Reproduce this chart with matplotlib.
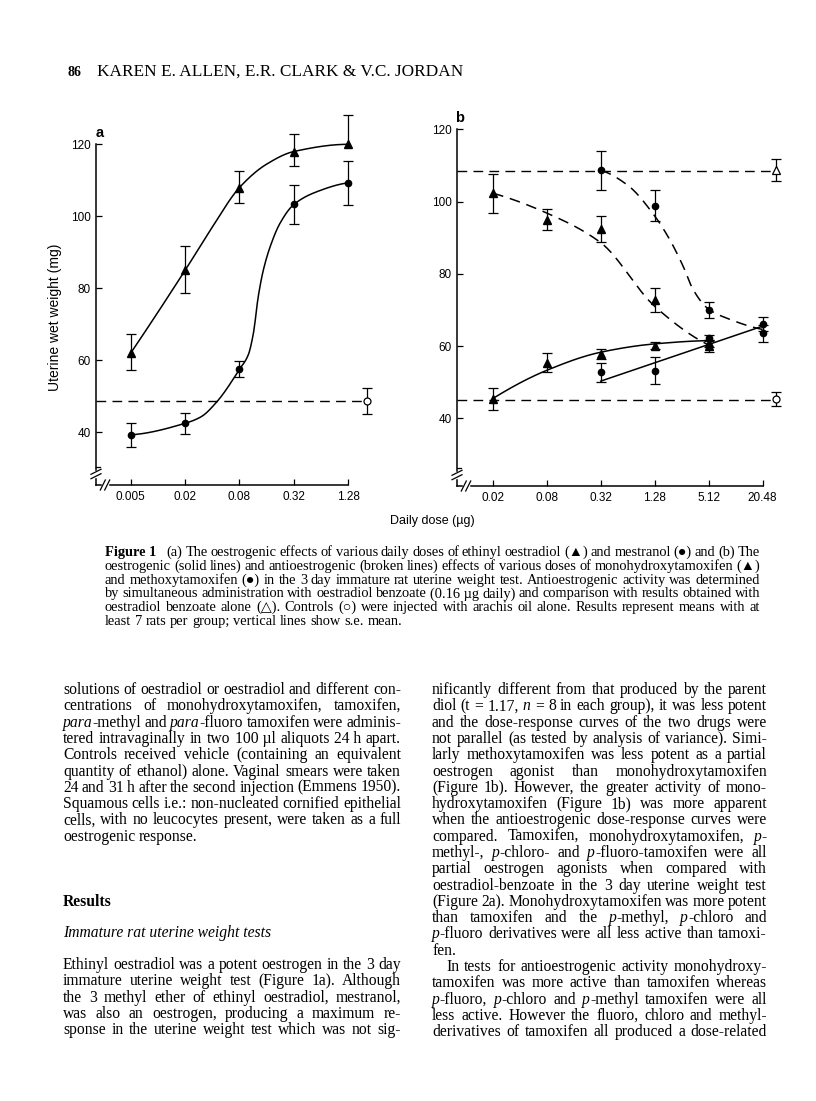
import numpy as np
import matplotlib
matplotlib.use('Agg')
import matplotlib.pyplot as plt
from matplotlib.lines import Line2D
from matplotlib.ticker import NullLocator

# ---- data ----
# panel a: ethinyl oestradiol (triangles) and mestranol (circles)
doses_a = [0.005, 0.02, 0.08, 0.32, 1.28]
dose_labels_a = ['0.005', '0.02', '0.08', '0.32', '1.28']
ee_mean = [62.0, 85.0, 108.0, 118.0, 120.0]
ee_se_lo = [4.7, 6.3, 4.4, 4.1, 0.0]
ee_se_hi = [5.2, 6.7, 4.7, 4.9, 8.1]
mes_mean = [39.3, 42.5, 57.5, 103.3, 109.3]
mes_se = [3.4, 3.0, 2.2, 5.3, 6.1]
ctrl_a = 48.7
ctrl_a_se = 3.7
# fitted curves (hand drawn in the original)
ee_fit_dose = [0.005, 0.02, 0.04, 0.08, 0.16, 0.32, 1.28]
ee_fit = [62.0, 85.0, 97.0, 108.0, 114.5, 118.0, 120.0]
mes_fit_dose = [0.005, 0.02, 0.03, 0.045, 0.08, 0.1, 0.114, 0.129, 0.147, 0.175, 0.225, 0.32, 0.57, 1.28]
mes_fit = [39.3, 42.5, 44.3, 48.5, 57.5, 61.5, 67.5, 77.7, 85.1, 91.6, 98.1, 103.3, 106.8, 109.3]

# panel b: monohydroxytamoxifen (triangles), methoxytamoxifen (circles)
dose_ticks_b = [0.02, 0.08, 0.32, 1.28, 5.12, 20.48]
dose_labels_b = ['0.02', '0.08', '0.32', '1.28', '5.12', '20.48']
mht_dose = [0.02, 0.08, 0.32, 1.28, 5.12]
mht_oes = [45.3, 55.4, 57.7, 60.1, 60.8]
mht_oes_se = [3.0, 2.6, 1.4, 1.0, 1.0]
mht_anti = [102.3, 95.0, 92.4, 72.8, 60.1]
mht_anti_se = [5.4, 2.8, 3.7, 3.4, 1.7]
meo_dose = [0.32, 1.28, 5.12, 20.48]
meo_oes = [52.7, 53.2, 62.3, 66.1]
meo_oes_se = [2.6, 3.7, 0.8, 1.9]
meo_anti = [108.6, 98.9, 70.0, 63.5]
meo_anti_se = [5.4, 4.2, 2.3, 2.3]
ob_alone = 108.7
ob_alone_se = 3.0
ob_line = 108.5
ctrl_b = 45.3
ctrl_b_se = 2.0
ctrl_line_b = 45.1
mht_oes_fit_dose = [0.02, 0.08, 0.32, 1.28, 5.12]
mht_oes_fit = [45.5, 53.3, 58.3, 60.6, 61.5]
mht_anti_fit_dose = [0.02, 0.08, 0.32, 1.28, 5.12]
mht_anti_fit = [102.3, 96.8, 88.6, 71.0, 60.3]
meo_oes_fit_dose = [0.32, 20.48]
meo_oes_fit = [50.3, 65.5]
meo_anti_fit_dose = [0.32, 0.64, 1.28, 1.89, 2.67, 3.46, 5.12, 8.2, 20.48]
meo_anti_fit = [108.6, 104.5, 96.0, 89.4, 82.0, 75.5, 70.2, 67.7, 64.6]

W, H = 816, 1101
fig = plt.figure(figsize=(W / 100, H / 100), dpi=100)
plt.rcParams['font.family'] = ['Liberation Sans', 'DejaVu Sans']
SERIF = ['Liberation Serif', 'DejaVu Sans']


def fx(px):
    return px / W


def fy(py):
    return 1 - py / H


def pchip(x, y, xn):
    x = np.asarray(x, float)
    y = np.asarray(y, float)
    if len(x) == 2:
        return np.interp(xn, x, y)
    h = np.diff(x)
    d = np.diff(y) / h
    m = np.zeros_like(y)
    for k in range(1, len(x) - 1):
        if d[k - 1] * d[k] > 0:
            w1 = 2 * h[k] + h[k - 1]
            w2 = h[k] + 2 * h[k - 1]
            m[k] = (w1 + w2) / (w1 / d[k - 1] + w2 / d[k])

    def end(h0, h1, d0, d1):
        v = ((2 * h0 + h1) * d0 - h0 * d1) / (h0 + h1)
        if np.sign(v) != np.sign(d0):
            return 0.0
        if np.sign(d0) != np.sign(d1) and abs(v) > 3 * abs(d0):
            return 3 * d0
        return v
    m[0] = end(h[0], h[1], d[0], d[1])
    m[-1] = end(h[-1], h[-2], d[-1], d[-2])
    i = np.clip(np.searchsorted(x, xn) - 1, 0, len(x) - 2)
    t = (xn - x[i]) / h[i]
    return ((2 * t**3 - 3 * t**2 + 1) * y[i] + (t**3 - 2 * t**2 + t) * h[i] * m[i]
            + (-2 * t**3 + 3 * t**2) * y[i + 1] + (t**3 - t**2) * h[i] * m[i + 1])


def curve(ax, xd, yd, ls):
    lx = np.log(xd)
    xs = np.linspace(lx[0], lx[-1], 300)
    ax.plot(np.exp(xs), pchip(lx, yd, xs), color='k', lw=1.1, ls=ls,
            dashes=(7, 4.5) if ls == '--' else (None, None), zorder=2)


def ebar(ax, x, y, lo, hi):
    x = np.asarray(x, float)
    y = np.asarray(y, float)
    lo = np.asarray(lo, float)
    hi = np.asarray(hi, float)
    ax.vlines(x, y - lo, y + hi, colors='k', lw=0.9, zorder=3)
    ax.plot(x[hi > 0], (y + hi)[hi > 0], ls='none', marker='_', ms=7.5, mew=0.9, color='k', zorder=3)
    ax.plot(x[lo > 0], (y - lo)[lo > 0], ls='none', marker='_', ms=7.5, mew=0.9, color='k', zorder=3)


def make_axes(left, right, bottom, x0_px, x0_dose, step_px, y_hi_px, y_lo_px, top):
    # pixel layout -> axes with log4 x scale
    ax = fig.add_axes([fx(left), fy(bottom), (right - left) / W, (bottom - top) / H])
    ax.set_xscale('log', base=4)
    ax.set_xlim(x0_dose / 4 ** ((x0_px - left) / step_px), x0_dose * 4 ** ((right - x0_px) / step_px))
    ppu = (y_lo_px - y_hi_px) / 80.0
    ax.set_ylim(40 - (bottom - y_lo_px) / ppu, 120 + (y_hi_px - top) / ppu)
    ax.xaxis.set_minor_locator(NullLocator())
    ax.yaxis.set_minor_locator(NullLocator())
    for s in ('top', 'right'):
        ax.spines[s].set_visible(False)
    for s in ('left', 'bottom'):
        ax.spines[s].set_linewidth(1.1)
    ax.tick_params(direction='in', length=4, width=0.9, labelsize=8.5, colors='k')
    ax.tick_params(axis='x', pad=4)
    ax.tick_params(axis='y', pad=4)
    ax.set_yticks([40, 60, 80, 100, 120])
    ax.patch.set_visible(False)
    return ax


def axis_break(cx, cy):
    # y spine break
    by = cy - 11
    fig.add_artist(Line2D([fx(cx), fx(cx)], [fy(by - 2), fy(by + 2)], color='w', lw=2.5,
                          transform=fig.transFigure))
    for d in (-2.2, 2.2):
        fig.add_artist(Line2D([fx(cx - 5), fx(cx + 5)], [fy(by + d + 2.5), fy(by + d - 2.5)],
                              color='k', lw=0.9, transform=fig.transFigure))
    fig.add_artist(Line2D([fx(cx), fx(cx + 4)], [fy(cy - 18), fy(cy - 18)], color='k', lw=0.9,
                          transform=fig.transFigure))
    # x spine break
    bx = cx + 9
    fig.add_artist(Line2D([fx(bx - 2), fx(bx + 2)], [fy(cy), fy(cy)], color='w', lw=2.5,
                          transform=fig.transFigure))
    for d in (-2.2, 2.2):
        fig.add_artist(Line2D([fx(bx + d - 2.5), fx(bx + d + 2.5)], [fy(cy + 5), fy(cy - 5)],
                              color='k', lw=0.9, transform=fig.transFigure))


# ---- panel a ----
A_L, A_R, A_B, A_T = 96, 380, 485, 108.3
ax_a = make_axes(A_L, A_R, A_B, 130.7, 0.005, 54.4, 144.3, 432.3, A_T)
ax_a.set_xticks(doses_a)
ax_a.set_xticklabels(dose_labels_a)
ax_a.spines['left'].set_bounds(ax_a.get_ylim()[0], 120)
ax_a.spines['bottom'].set_bounds(ax_a.get_xlim()[0], doses_a[-1])
ctrl_x_a = 0.005 * 4 ** ((366.7 - 130.7) / 54.4)

curve(ax_a, ee_fit_dose, ee_fit, '-')
curve(ax_a, mes_fit_dose, mes_fit, '-')
ax_a.plot([ax_a.get_xlim()[0], ctrl_x_a], [ctrl_a, ctrl_a], color='k', lw=1.0, dashes=(7, 4.5))
ebar(ax_a, doses_a, ee_mean, ee_se_lo, ee_se_hi)
ebar(ax_a, doses_a, mes_mean, mes_se, mes_se)
ebar(ax_a, [ctrl_x_a], [ctrl_a], [ctrl_a_se], [ctrl_a_se])
ax_a.plot(doses_a, ee_mean, ls='none', marker='^', ms=5.5, color='k', zorder=4, clip_on=False)
ax_a.plot(doses_a, mes_mean, ls='none', marker='o', ms=4.5, color='k', zorder=4, clip_on=False)
ax_a.plot([ctrl_x_a], [ctrl_a], ls='none', marker='o', ms=5, mfc='w', mec='k', mew=0.9, zorder=4)
ax_a.set_ylabel('Uterine wet weight (mg)', fontsize=10)
ax_a.yaxis.set_label_coords((62 - A_L) / (A_R - A_L), (A_B - 317) / (A_B - A_T))
fig.text(fx(100), fy(133), 'a', fontsize=10.5, fontweight='bold', ha='center', va='center')
axis_break(A_L, A_B)

# ---- panel b ----
ax_b = make_axes(457, 790, 486, 493, 0.02, 53.9, 129.3, 418.3, 122)
ax_b.set_xticks(dose_ticks_b)
ax_b.set_xticklabels(dose_labels_b)
ax_b.spines['left'].set_bounds(ax_b.get_ylim()[0], 120)
ax_b.spines['bottom'].set_bounds(ax_b.get_xlim()[0], dose_ticks_b[-1])
ctrl_x_b = 0.02 * 4 ** ((776 - 493) / 53.9)
xl = ax_b.get_xlim()[0]

curve(ax_b, mht_oes_fit_dose, mht_oes_fit, '-')
curve(ax_b, meo_oes_fit_dose, meo_oes_fit, '-')
curve(ax_b, mht_anti_fit_dose, mht_anti_fit, '--')
curve(ax_b, meo_anti_fit_dose, meo_anti_fit, '--')
ax_b.plot([xl, ctrl_x_b], [ob_line, ob_line], color='k', lw=1.0, dashes=(7, 4.5))
ax_b.plot([xl, ctrl_x_b], [ctrl_line_b, ctrl_line_b], color='k', lw=1.0, dashes=(7, 4.5))
ebar(ax_b, mht_dose, mht_oes, mht_oes_se, mht_oes_se)
ebar(ax_b, mht_dose, mht_anti, mht_anti_se, mht_anti_se)
ebar(ax_b, meo_dose, meo_oes, meo_oes_se, meo_oes_se)
ebar(ax_b, meo_dose, meo_anti, meo_anti_se, meo_anti_se)
ebar(ax_b, [ctrl_x_b], [ob_alone], [ob_alone_se], [ob_alone_se])
ebar(ax_b, [ctrl_x_b], [ctrl_b], [ctrl_b_se], [ctrl_b_se])
for ys in (mht_oes, mht_anti):
    ax_b.plot(mht_dose, ys, ls='none', marker='^', ms=5.5, color='k', zorder=4)
for ys in (meo_oes, meo_anti):
    ax_b.plot(meo_dose, ys, ls='none', marker='o', ms=4.5, color='k', zorder=4)
ax_b.plot([ctrl_x_b], [ob_alone], ls='none', marker='^', ms=6, mfc='w', mec='k', mew=0.9, zorder=4)
ax_b.plot([ctrl_x_b], [ctrl_b], ls='none', marker='o', ms=5, mfc='w', mec='k', mew=0.9, zorder=4)
fig.text(fx(460), fy(118), 'b', fontsize=10.5, fontweight='bold', ha='center', va='center')
axis_break(457, 486)

fig.text(fx(432), fy(521), 'Daily dose (\u00b5g)', fontsize=9, ha='center', va='center')

# ---- page text ----
renderer = fig.canvas.get_renderer()


def segments(word):
    segs, buf, it, bd = [], '', False, False
    for ch in word:
        if ch in '_*':
            if buf:
                segs.append((buf, it, bd))
                buf = ''
            if ch == '_':
                it = not it
            else:
                bd = not bd
        else:
            buf += ch
    if buf:
        segs.append((buf, it, bd))
    return [(s.replace('~', ' '), i, b) for s, i, b in segs]


def text_w(s, size, it=False, bd=False):
    t = fig.text(0, 0, s, fontsize=size, family=SERIF, style='italic' if it else 'normal',
                 weight='bold' if bd else 'normal')
    w = t.get_window_extent(renderer).width
    t.remove()
    return w


def space_w(size):
    return text_w('n n', size) - 2 * text_w('n', size)


def word_w(w, size):
    return sum(text_w(s, size, i, b) for s, i, b in segments(w))


def line(txt, x0, x1, y, size, justify=True):
    words = txt.split(' ')
    segw = [[(s, i, b, text_w(s, size, i, b)) for s, i, b in segments(w)] for w in words]
    ww = [sum(p[3] for p in sw) for sw in segw]
    gap = space_w(size)
    if justify and len(words) > 1:
        gap = max((x1 - x0 - sum(ww)) / (len(words) - 1), 1.5)
    x = x0
    for sw, w in zip(segw, ww):
        for s, i, b, w_ in sw:
            fig.text(fx(x), fy(y), s, fontsize=size, family=SERIF, va='baseline',
                     style='italic' if i else 'normal', weight='bold' if b else 'normal')
            x += w_
        x += gap


def fit_size(lines, x0, x1, indents=None, base=10.0):
    # largest size at which every justified line still fits its measure
    best = 10.0
    for k, t in enumerate(lines):
        if t.endswith('\n'):
            continue
        ind = indents.get(k, 0) if indents else 0
        words = t.split(' ')
        nat = sum(word_w(w, base) for w in words) + 0.8 * (len(words) - 1) * space_w(base)
        best = min(best, (x1 - x0 - ind) / nat)
    return base * best


def block(lines, x0, x1, y0, step, size, last_ragged=True, indents=None):
    for k, t in enumerate(lines):
        ind = indents.get(k, 0) if indents else 0
        justify = not (last_ragged and k == len(lines) - 1) and not t.endswith('\n')
        line(t.rstrip('\n'), x0 + ind, x1, y0 + k * step, size, justify)


header = 'KAREN E. ALLEN, E.R. CLARK & V.C. JORDAN'
fig.text(fx(68), fy(76), '86', fontsize=10, family=SERIF, weight='bold', va='baseline')
hs = 10 * (462 - 97) / text_w(header, 10)
fig.text(fx(97), fy(76), header, fontsize=hs, family=SERIF, va='baseline')

caption = [
    '*Figure~1*~~ (a) The oestrogenic effects of various daily doses of ethinyl oestradiol (\u25b2) and mestranol (\u25cf) and (b) The',
    'oestrogenic (solid lines) and antioestrogenic (broken lines) effects of various doses of monohydroxytamoxifen (\u25b2)',
    'and methoxytamoxifen (\u25cf) in the 3 day immature rat uterine weight test. Antioestrogenic activity was determined',
    'by simultaneous administration with oestradiol benzoate (0.16~\u00b5g daily) and comparison with results obtained with',
    'oestradiol benzoate alone (\u25b3). Controls (\u25cb) were injected with arachis oil alone. Results represent means with at',
    'least 7 rats per group; vertical lines show s.e. mean.\n',
]
cap_size = fit_size(caption, 105, 760)
block(caption, 105, 760, 556, 13.8, cap_size)

left_a = [
    'solutions of oestradiol or oestradiol and different con-',
    'centrations of monohydroxytamoxifen, tamoxifen,',
    '_para_-methyl and _para_-fluoro tamoxifen were adminis-',
    'tered intravaginally in two 100~\u00b5l aliquots 24~h apart.',
    'Controls received vehicle (containing an equivalent',
    'quantity of ethanol) alone. Vaginal smears were taken',
    '24 and 31 h after the second injection (Emmens 1950).',
    'Squamous cells i.e.: non-nucleated cornified epithelial',
    'cells, with no leucocytes present, were taken as a full',
    'oestrogenic response.\n',
]
left_b = [
    'Ethinyl oestradiol was a potent oestrogen in the 3 day',
    'immature uterine weight test (Figure 1a). Although',
    'the 3 methyl ether of ethinyl oestradiol, mestranol,',
    'was also an oestrogen, producing a maximum re-',
    'sponse in the uterine weight test which was not sig-',
]
right = [
    'nificantly different from that produced by the parent',
    'diol (t = 1.17, _n_ = 8 in each group), it was less potent',
    'and the dose-response curves of the two drugs were',
    'not parallel (as tested by analysis of variance). Simi-',
    'larly methoxytamoxifen was less potent as a partial',
    'oestrogen agonist than monohydroxytamoxifen',
    '(Figure 1b). However, the greater activity of mono-',
    'hydroxytamoxifen (Figure 1b) was more apparent',
    'when the antioestrogenic dose-response curves were',
    'compared. Tamoxifen, monohydroxytamoxifen, _p_-',
    'methyl-, _p_-chloro- and _p_-fluoro-tamoxifen were all',
    'partial oestrogen agonists when compared with',
    'oestradiol-benzoate in the 3 day uterine weight test',
    '(Figure 2a). Monohydroxytamoxifen was more potent',
    'than tamoxifen and the _p_-methyl, _p_-chloro and',
    '_p_-fluoro derivatives were all less active than tamoxi-',
    'fen.\n',
    'In tests for antioestrogenic activity monohydroxy-',
    'tamoxifen was more active than tamoxifen whereas',
    '_p_-fluoro, _p_-chloro and _p_-methyl tamoxifen were all',
    'less active. However the fluoro, chloro and methyl-',
    'derivatives of tamoxifen all produced a dose-related',
]
body_size = min(fit_size(left_a + left_b, 63, 401), fit_size(right, 432, 767, {17: 14}))

block(left_a, 63, 401, 694, 16.3, body_size)
line('*Results*', 63, 401, 905.5, body_size, False)
line('_Immature~rat~uterine~weight~tests_', 63, 401, 937, body_size, False)
block(left_b, 63, 401, 969, 16.3, body_size, last_ragged=False)
block(right, 432, 767, 694, 16.3, body_size, last_ragged=False, indents={17: 14})

fig.savefig('out.png', dpi=100, facecolor='white')
